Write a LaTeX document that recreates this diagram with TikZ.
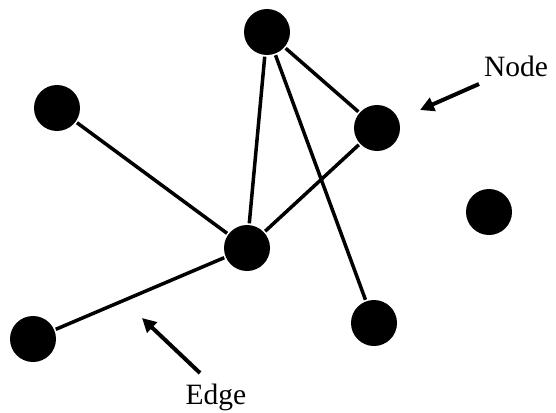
\documentclass[tikz,border=0pt]{standalone}
\usepackage{fontspec}
\setmainfont{Liberation Serif}
\usetikzlibrary{arrows.meta}

\begin{document}
\begin{tikzpicture}[x=1pt,y=-1pt,line width=3.5pt,
		graph node/.style={circle,fill=black,draw=none,minimum size=46pt,inner sep=0pt},
		label text/.style={font=\fontsize{29.5}{31}\selectfont,inner sep=0pt,anchor=base},
		pointer/.style={line width=4pt,-{Triangle[length=14pt,width=14pt]}}]

	\useasboundingbox (0,0) rectangle (556,412);

	\node[graph node] (a) at (267,32) {};
	\node[graph node] (b) at (57,108) {};
	\node[graph node] (c) at (377,128) {};
	\node[graph node] (d) at (489,212) {};
	\node[graph node] (e) at (247,248) {};
	\node[graph node] (f) at (33,339) {};
	\node[graph node] (g) at (374,323) {};

	\draw (a) -- (e);
	\draw (a) -- (c);
	\draw (a) -- (g);
	\draw (b) -- (e);
	\draw (e) -- (c);
	\draw (e) -- (f);

	\node[label text] (nodelbl) at (516,76) {Node};
	\node[label text] (edgelbl) at (216,404) {Edge};

	\coordinate (nodetail) at (479,84);
	\coordinate (nodetip) at (420,110);
	\coordinate (edgetail) at (200,373);
	\coordinate (edgetip) at (142,318);
	\draw[pointer] (nodetail) -- (nodetip);
	\draw[pointer] (edgetail) -- (edgetip);
\end{tikzpicture}
\end{document}
